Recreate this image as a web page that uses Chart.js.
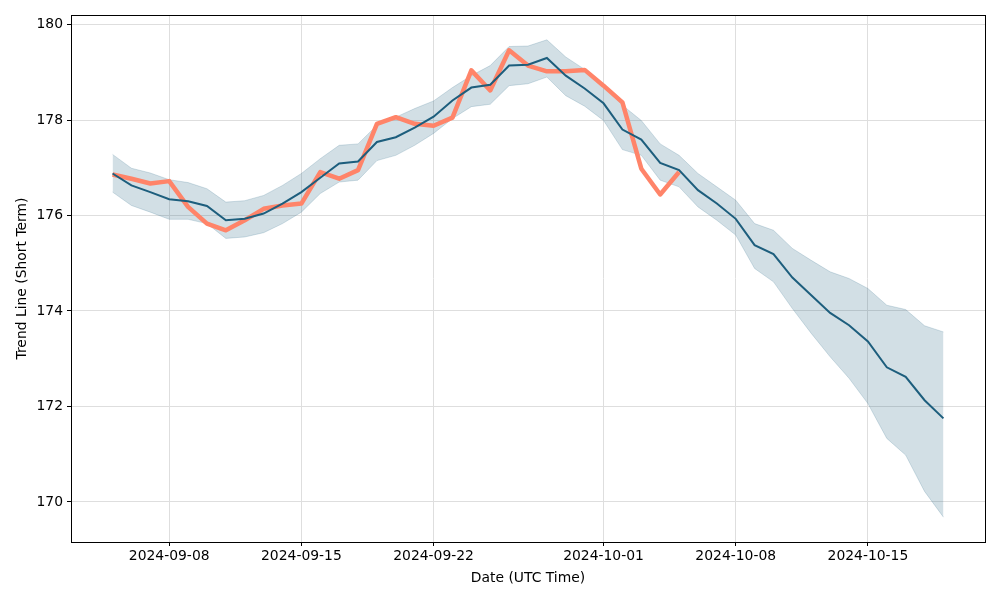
<!DOCTYPE html>
<html>
<head>
<meta charset="utf-8">
<script src="https://cdn.jsdelivr.net/npm/chart.js@4.4.1/dist/chart.umd.min.js"></script>
<style>
  html, body { margin: 0; padding: 0; background: #fff; }
  #wrap { width: 1000px; height: 600px; }
</style>
</head>
<body>
<div id="wrap"><canvas id="c" width="1000" height="600"></canvas></div>
<script>
// days counted from 2024-09-05, one point per day
const tickDays = [3, 10, 17, 26, 33, 40];
const tickLabels = ['2024-09-08', '2024-09-15', '2024-09-22', '2024-10-01', '2024-10-08', '2024-10-15'];
const yTicks = [170, 172, 174, 176, 178, 180];

// short term trend line (blue)
const trend = [176.88, 176.63, 176.49, 176.34, 176.30, 176.20, 175.90, 175.93, 176.04, 176.25,
    176.49, 176.79, 177.09, 177.13, 177.54, 177.64, 177.84, 178.07, 178.41, 178.68,
    178.74, 179.14, 179.16, 179.30, 178.93, 178.66, 178.35, 177.80, 177.59, 177.10,
    176.95, 176.53, 176.25, 175.93, 175.38, 175.19, 174.70, 174.33, 173.96, 173.70,
    173.36, 172.82, 172.62, 172.13, 171.75];

// band around trend
const upper = [177.28, 176.99, 176.89, 176.75, 176.69, 176.56, 176.28, 176.31, 176.42, 176.63,
    176.88, 177.19, 177.47, 177.50, 177.89, 178.06, 178.24, 178.40, 178.68, 178.93,
    179.14, 179.54, 179.55, 179.68, 179.32, 179.06, 178.72, 178.31, 177.99, 177.50,
    177.26, 176.88, 176.60, 176.32, 175.83, 175.69, 175.31, 175.06, 174.82, 174.68,
    174.47, 174.12, 174.03, 173.69, 173.56];
const lower = [176.49, 176.21, 176.07, 175.92, 175.92, 175.83, 175.52, 175.55, 175.64, 175.83,
    176.07, 176.46, 176.70, 176.74, 177.15, 177.26, 177.47, 177.72, 178.03, 178.28,
    178.33, 178.72, 178.76, 178.90, 178.51, 178.29, 177.99, 177.38, 177.26, 176.74,
    176.60, 176.18, 175.90, 175.59, 174.89, 174.61, 174.05, 173.53, 173.04, 172.59,
    172.06, 171.33, 170.98, 170.22, 169.68];

// actual values (orange)
const actual = [176.86, 176.77, 176.67, 176.72, 176.18, 175.83, 175.69, 175.90, 176.14, 176.21,
    176.25, 176.91, 176.77, 176.95, 177.92, 178.06, 177.92, 177.88, 178.05, 179.04,
    178.62, 179.46, 179.14, 179.02, 179.02, 179.05, 178.72, 178.37, 176.98, 176.44,
    176.91];

const toPoints = arr => arr.map((v, i) => ({ x: i, y: v }));

const frame = {
    id: 'frame',
    afterDraw: function (chart) {
        const a = chart.chartArea;
        const ctx = chart.ctx;
        ctx.save();
        ctx.strokeStyle = '#000';
        ctx.lineWidth = 1;
        ctx.strokeRect(Math.round(a.left) + 0.5, Math.round(a.top) + 0.5,
            Math.round(a.right - a.left), Math.round(a.bottom - a.top));
        ctx.restore();
    }
};

Chart.defaults.font.family = 'DejaVu Sans';
Chart.defaults.font.size = 13.9;
Chart.defaults.color = '#000';

new Chart(document.getElementById('c').getContext('2d'), {
    type: 'line',
    data: {
        datasets: [
            { data: toPoints(trend), borderColor: 'rgb(29,94,125)', borderWidth: 2, pointRadius: 0, fill: false },
            { data: toPoints(actual), borderColor: '#ff8469', borderWidth: 4.5, pointRadius: 0, fill: false, borderJoinStyle: 'round' },
            { data: toPoints(upper), borderColor: 'rgba(29,94,125,0.18)', borderWidth: 1, pointRadius: 0,
              fill: '+1', backgroundColor: 'rgba(29,94,125,0.2)' },
            { data: toPoints(lower), borderColor: 'rgba(29,94,125,0.18)', borderWidth: 1, pointRadius: 0, fill: false }
        ]
    },
    options: {
        responsive: false,
        animation: false,
        layout: { padding: { top: 15, right: 15, left: 0, bottom: 0 } },
        plugins: { legend: { display: false }, tooltip: { enabled: false } },
        elements: { line: { tension: 0 } },
        scales: {
            x: {
                type: 'linear',
                min: -2.2,
                max: 46.2,
                afterBuildTicks: function (s) { s.ticks = tickDays.map(v => ({ value: v })); },
                afterFit: function (s) { s.height = 58; },
                ticks: {
                    padding: 2,
                    maxRotation: 0,
                    callback: function (v) { return tickLabels[tickDays.indexOf(v)]; }
                },
                grid: { color: '#dedede', tickColor: '#000', tickLength: 4 },
                border: { display: false },
                title: { display: true, text: 'Date (UTC Time)', padding: { top: 0, bottom: 13 } }
            },
            y: {
                min: 169.16,
                max: 180.2,
                afterBuildTicks: function (s) { s.ticks = yTicks.map(v => ({ value: v })); },
                afterFit: function (s) { s.width = 71; },
                ticks: { padding: 4, callback: v => String(v) },
                grid: { color: '#dedede', tickColor: '#000', tickLength: 4 },
                border: { display: false },
                title: { display: true, text: 'Trend Line (Short Term)', padding: { top: 14, bottom: 0 } }
            }
        }
    },
    plugins: [frame]
});
</script>
</body>
</html>
